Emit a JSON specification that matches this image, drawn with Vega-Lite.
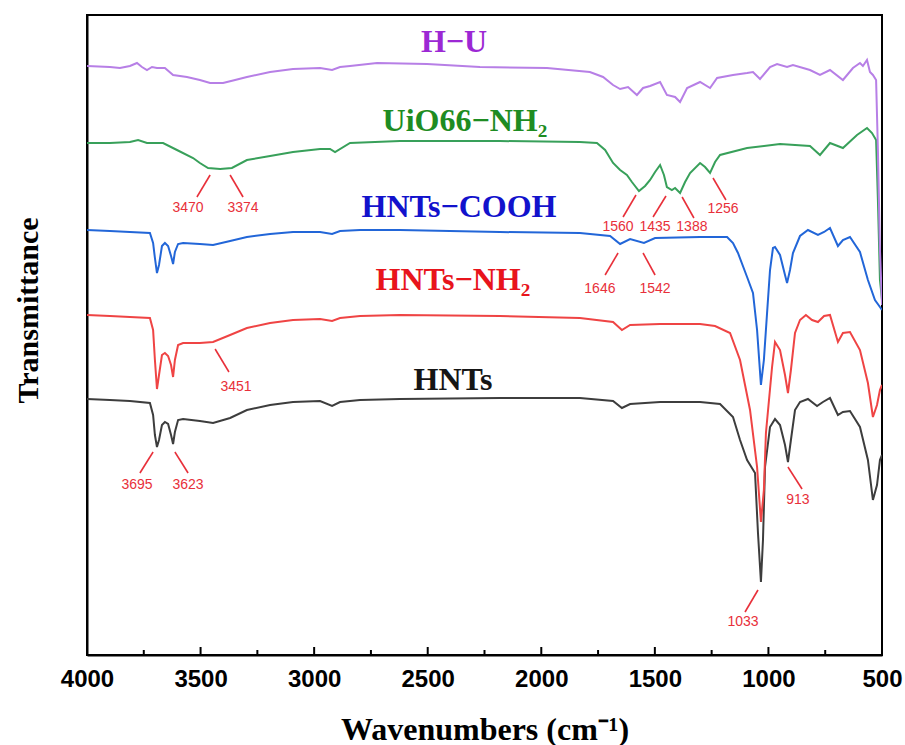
{
  "$schema": "https://vega.github.io/schema/vega-lite/v6.json",
  "width": 795,
  "height": 640,
  "autosize": "none",
  "padding": {"left": 87, "top": 15, "right": 23, "bottom": 90},
  "background": "white",
  "config": {
    "view": {"stroke": "black", "strokeWidth": 2},
    "axis": {"domainColor": "black", "domainWidth": 2, "grid": false}
  },
  "datasets": {
    "curves": [
      {"s":"HNTs","wn":4000,"t":256},{"s":"HNTs","wn":3899,"t":255},{"s":"HNTs","wn":3811,"t":254},{"s":"HNTs","wn":3723,"t":252},{"s":"HNTs","wn":3709,"t":240},{"s":"HNTs","wn":3701,"t":220},{"s":"HNTs","wn":3692,"t":208},{"s":"HNTs","wn":3683,"t":215},{"s":"HNTs","wn":3670,"t":230},{"s":"HNTs","wn":3657,"t":233},{"s":"HNTs","wn":3643,"t":231},{"s":"HNTs","wn":3630,"t":220},{"s":"HNTs","wn":3621,"t":211},{"s":"HNTs","wn":3613,"t":223},{"s":"HNTs","wn":3599,"t":235},{"s":"HNTs","wn":3577,"t":236},{"s":"HNTs","wn":3503,"t":234},{"s":"HNTs","wn":3445,"t":232},{"s":"HNTs","wn":3370,"t":237},{"s":"HNTs","wn":3296,"t":245},{"s":"HNTs","wn":3194,"t":250},{"s":"HNTs","wn":3093,"t":253},{"s":"HNTs","wn":2974,"t":254},{"s":"HNTs","wn":2921,"t":249},{"s":"HNTs","wn":2886,"t":253},{"s":"HNTs","wn":2798,"t":255},{"s":"HNTs","wn":2622,"t":256},{"s":"HNTs","wn":2182,"t":257},{"s":"HNTs","wn":1830,"t":257},{"s":"HNTs","wn":1684,"t":254},{"s":"HNTs","wn":1645,"t":247},{"s":"HNTs","wn":1609,"t":251},{"s":"HNTs","wn":1477,"t":253},{"s":"HNTs","wn":1301,"t":253},{"s":"HNTs","wn":1213,"t":251},{"s":"HNTs","wn":1156,"t":238},{"s":"HNTs","wn":1125,"t":215},{"s":"HNTs","wn":1094,"t":195},{"s":"HNTs","wn":1059,"t":182},{"s":"HNTs","wn":1046,"t":122},{"s":"HNTs","wn":1033,"t":73},{"s":"HNTs","wn":1024,"t":115},{"s":"HNTs","wn":1015,"t":188},{"s":"HNTs","wn":993,"t":228},{"s":"HNTs","wn":971,"t":236},{"s":"HNTs","wn":949,"t":230},{"s":"HNTs","wn":927,"t":210},{"s":"HNTs","wn":914,"t":193},{"s":"HNTs","wn":901,"t":215},{"s":"HNTs","wn":883,"t":245},{"s":"HNTs","wn":861,"t":253},{"s":"HNTs","wn":826,"t":256},{"s":"HNTs","wn":786,"t":249},{"s":"HNTs","wn":760,"t":253},{"s":"HNTs","wn":729,"t":257},{"s":"HNTs","wn":694,"t":240},{"s":"HNTs","wn":672,"t":243},{"s":"HNTs","wn":641,"t":244},{"s":"HNTs","wn":597,"t":228},{"s":"HNTs","wn":562,"t":195},{"s":"HNTs","wn":540,"t":155},{"s":"HNTs","wn":522,"t":170},{"s":"HNTs","wn":509,"t":195},{"s":"HNTs","wn":500,"t":200},

      {"s":"HNTs-NH2","wn":4000,"t":340},{"s":"HNTs-NH2","wn":3899,"t":339},{"s":"HNTs-NH2","wn":3811,"t":338},{"s":"HNTs-NH2","wn":3723,"t":337},{"s":"HNTs-NH2","wn":3709,"t":325},{"s":"HNTs-NH2","wn":3701,"t":295},{"s":"HNTs-NH2","wn":3692,"t":266},{"s":"HNTs-NH2","wn":3683,"t":280},{"s":"HNTs-NH2","wn":3670,"t":300},{"s":"HNTs-NH2","wn":3657,"t":302},{"s":"HNTs-NH2","wn":3643,"t":299},{"s":"HNTs-NH2","wn":3630,"t":290},{"s":"HNTs-NH2","wn":3621,"t":278},{"s":"HNTs-NH2","wn":3613,"t":295},{"s":"HNTs-NH2","wn":3599,"t":310},{"s":"HNTs-NH2","wn":3577,"t":312},{"s":"HNTs-NH2","wn":3503,"t":312},{"s":"HNTs-NH2","wn":3445,"t":313},{"s":"HNTs-NH2","wn":3370,"t":320},{"s":"HNTs-NH2","wn":3296,"t":327},{"s":"HNTs-NH2","wn":3194,"t":332},{"s":"HNTs-NH2","wn":3093,"t":335},{"s":"HNTs-NH2","wn":2974,"t":336},{"s":"HNTs-NH2","wn":2921,"t":334},{"s":"HNTs-NH2","wn":2886,"t":337},{"s":"HNTs-NH2","wn":2798,"t":339},{"s":"HNTs-NH2","wn":2622,"t":340},{"s":"HNTs-NH2","wn":2182,"t":339},{"s":"HNTs-NH2","wn":1830,"t":337},{"s":"HNTs-NH2","wn":1684,"t":333},{"s":"HNTs-NH2","wn":1645,"t":325},{"s":"HNTs-NH2","wn":1609,"t":330},{"s":"HNTs-NH2","wn":1477,"t":331},{"s":"HNTs-NH2","wn":1301,"t":331},{"s":"HNTs-NH2","wn":1235,"t":329},{"s":"HNTs-NH2","wn":1169,"t":322},{"s":"HNTs-NH2","wn":1125,"t":295},{"s":"HNTs-NH2","wn":1103,"t":270},{"s":"HNTs-NH2","wn":1081,"t":245},{"s":"HNTs-NH2","wn":1050,"t":188},{"s":"HNTs-NH2","wn":1033,"t":133},{"s":"HNTs-NH2","wn":1020,"t":165},{"s":"HNTs-NH2","wn":1011,"t":222},{"s":"HNTs-NH2","wn":984,"t":288},{"s":"HNTs-NH2","wn":971,"t":313},{"s":"HNTs-NH2","wn":949,"t":305},{"s":"HNTs-NH2","wn":927,"t":280},{"s":"HNTs-NH2","wn":914,"t":262},{"s":"HNTs-NH2","wn":901,"t":285},{"s":"HNTs-NH2","wn":883,"t":322},{"s":"HNTs-NH2","wn":861,"t":335},{"s":"HNTs-NH2","wn":835,"t":340},{"s":"HNTs-NH2","wn":808,"t":335},{"s":"HNTs-NH2","wn":782,"t":333},{"s":"HNTs-NH2","wn":755,"t":339},{"s":"HNTs-NH2","wn":729,"t":340},{"s":"HNTs-NH2","wn":694,"t":313},{"s":"HNTs-NH2","wn":672,"t":322},{"s":"HNTs-NH2","wn":641,"t":323},{"s":"HNTs-NH2","wn":597,"t":305},{"s":"HNTs-NH2","wn":562,"t":272},{"s":"HNTs-NH2","wn":540,"t":238},{"s":"HNTs-NH2","wn":522,"t":250},{"s":"HNTs-NH2","wn":509,"t":265},{"s":"HNTs-NH2","wn":500,"t":270},

      {"s":"HNTs-COOH","wn":4000,"t":425},{"s":"HNTs-COOH","wn":3899,"t":424},{"s":"HNTs-COOH","wn":3811,"t":423},{"s":"HNTs-COOH","wn":3723,"t":422},{"s":"HNTs-COOH","wn":3709,"t":412},{"s":"HNTs-COOH","wn":3701,"t":397},{"s":"HNTs-COOH","wn":3692,"t":382},{"s":"HNTs-COOH","wn":3683,"t":390},{"s":"HNTs-COOH","wn":3670,"t":409},{"s":"HNTs-COOH","wn":3657,"t":412},{"s":"HNTs-COOH","wn":3643,"t":409},{"s":"HNTs-COOH","wn":3630,"t":399},{"s":"HNTs-COOH","wn":3621,"t":391},{"s":"HNTs-COOH","wn":3613,"t":403},{"s":"HNTs-COOH","wn":3599,"t":411},{"s":"HNTs-COOH","wn":3577,"t":412},{"s":"HNTs-COOH","wn":3503,"t":411},{"s":"HNTs-COOH","wn":3445,"t":410},{"s":"HNTs-COOH","wn":3370,"t":414},{"s":"HNTs-COOH","wn":3296,"t":418},{"s":"HNTs-COOH","wn":3194,"t":421},{"s":"HNTs-COOH","wn":3093,"t":423},{"s":"HNTs-COOH","wn":2974,"t":423},{"s":"HNTs-COOH","wn":2921,"t":421},{"s":"HNTs-COOH","wn":2886,"t":424},{"s":"HNTs-COOH","wn":2798,"t":425},{"s":"HNTs-COOH","wn":2622,"t":425},{"s":"HNTs-COOH","wn":2402,"t":424},{"s":"HNTs-COOH","wn":2182,"t":423},{"s":"HNTs-COOH","wn":1830,"t":422},{"s":"HNTs-COOH","wn":1697,"t":419},{"s":"HNTs-COOH","wn":1653,"t":411},{"s":"HNTs-COOH","wn":1609,"t":416},{"s":"HNTs-COOH","wn":1548,"t":412},{"s":"HNTs-COOH","wn":1499,"t":417},{"s":"HNTs-COOH","wn":1301,"t":418},{"s":"HNTs-COOH","wn":1182,"t":418},{"s":"HNTs-COOH","wn":1156,"t":412},{"s":"HNTs-COOH","wn":1134,"t":402},{"s":"HNTs-COOH","wn":1094,"t":378},{"s":"HNTs-COOH","wn":1068,"t":362},{"s":"HNTs-COOH","wn":1050,"t":325},{"s":"HNTs-COOH","wn":1033,"t":270},{"s":"HNTs-COOH","wn":1020,"t":295},{"s":"HNTs-COOH","wn":1006,"t":342},{"s":"HNTs-COOH","wn":993,"t":385},{"s":"HNTs-COOH","wn":980,"t":407},{"s":"HNTs-COOH","wn":971,"t":408},{"s":"HNTs-COOH","wn":949,"t":400},{"s":"HNTs-COOH","wn":927,"t":380},{"s":"HNTs-COOH","wn":918,"t":372},{"s":"HNTs-COOH","wn":905,"t":385},{"s":"HNTs-COOH","wn":892,"t":402},{"s":"HNTs-COOH","wn":861,"t":419},{"s":"HNTs-COOH","wn":826,"t":425},{"s":"HNTs-COOH","wn":782,"t":420},{"s":"HNTs-COOH","wn":755,"t":423},{"s":"HNTs-COOH","wn":729,"t":427},{"s":"HNTs-COOH","wn":694,"t":409},{"s":"HNTs-COOH","wn":672,"t":415},{"s":"HNTs-COOH","wn":641,"t":418},{"s":"HNTs-COOH","wn":597,"t":403},{"s":"HNTs-COOH","wn":562,"t":375},{"s":"HNTs-COOH","wn":531,"t":355},{"s":"HNTs-COOH","wn":509,"t":348},{"s":"HNTs-COOH","wn":500,"t":345},

      {"s":"UiO66-NH2","wn":4000,"t":512},{"s":"UiO66-NH2","wn":3899,"t":512},{"s":"UiO66-NH2","wn":3811,"t":513},{"s":"UiO66-NH2","wn":3775,"t":515},{"s":"UiO66-NH2","wn":3736,"t":512},{"s":"UiO66-NH2","wn":3665,"t":512},{"s":"UiO66-NH2","wn":3604,"t":505},{"s":"UiO66-NH2","wn":3533,"t":497},{"s":"UiO66-NH2","wn":3503,"t":492},{"s":"UiO66-NH2","wn":3467,"t":487},{"s":"UiO66-NH2","wn":3414,"t":486},{"s":"UiO66-NH2","wn":3362,"t":487},{"s":"UiO66-NH2","wn":3296,"t":495},{"s":"UiO66-NH2","wn":3194,"t":499},{"s":"UiO66-NH2","wn":3093,"t":503},{"s":"UiO66-NH2","wn":2974,"t":506},{"s":"UiO66-NH2","wn":2930,"t":506},{"s":"UiO66-NH2","wn":2908,"t":503},{"s":"UiO66-NH2","wn":2842,"t":512},{"s":"UiO66-NH2","wn":2622,"t":514},{"s":"UiO66-NH2","wn":2182,"t":514},{"s":"UiO66-NH2","wn":1830,"t":513},{"s":"UiO66-NH2","wn":1755,"t":512},{"s":"UiO66-NH2","wn":1719,"t":505},{"s":"UiO66-NH2","wn":1684,"t":492},{"s":"UiO66-NH2","wn":1653,"t":485},{"s":"UiO66-NH2","wn":1623,"t":480},{"s":"UiO66-NH2","wn":1601,"t":473},{"s":"UiO66-NH2","wn":1570,"t":464},{"s":"UiO66-NH2","wn":1543,"t":469},{"s":"UiO66-NH2","wn":1521,"t":475},{"s":"UiO66-NH2","wn":1499,"t":483},{"s":"UiO66-NH2","wn":1477,"t":490},{"s":"UiO66-NH2","wn":1460,"t":480},{"s":"UiO66-NH2","wn":1447,"t":468},{"s":"UiO66-NH2","wn":1425,"t":465},{"s":"UiO66-NH2","wn":1411,"t":467},{"s":"UiO66-NH2","wn":1389,"t":462},{"s":"UiO66-NH2","wn":1367,"t":473},{"s":"UiO66-NH2","wn":1345,"t":482},{"s":"UiO66-NH2","wn":1301,"t":492},{"s":"UiO66-NH2","wn":1279,"t":488},{"s":"UiO66-NH2","wn":1257,"t":482},{"s":"UiO66-NH2","wn":1235,"t":493},{"s":"UiO66-NH2","wn":1213,"t":500},{"s":"UiO66-NH2","wn":1094,"t":507},{"s":"UiO66-NH2","wn":949,"t":511},{"s":"UiO66-NH2","wn":817,"t":509},{"s":"UiO66-NH2","wn":773,"t":500},{"s":"UiO66-NH2","wn":729,"t":512},{"s":"UiO66-NH2","wn":672,"t":507},{"s":"UiO66-NH2","wn":610,"t":520},{"s":"UiO66-NH2","wn":566,"t":527},{"s":"UiO66-NH2","wn":544,"t":522},{"s":"UiO66-NH2","wn":526,"t":515},{"s":"UiO66-NH2","wn":518,"t":455},{"s":"UiO66-NH2","wn":509,"t":375},{"s":"UiO66-NH2","wn":500,"t":355},

      {"s":"H-U","wn":4000,"t":589},{"s":"H-U","wn":3899,"t":588},{"s":"H-U","wn":3855,"t":587},{"s":"H-U","wn":3811,"t":589},{"s":"H-U","wn":3780,"t":592},{"s":"H-U","wn":3758,"t":588},{"s":"H-U","wn":3736,"t":585},{"s":"H-U","wn":3714,"t":588},{"s":"H-U","wn":3692,"t":587},{"s":"H-U","wn":3657,"t":587},{"s":"H-U","wn":3621,"t":580},{"s":"H-U","wn":3560,"t":578},{"s":"H-U","wn":3503,"t":575},{"s":"H-U","wn":3458,"t":572},{"s":"H-U","wn":3401,"t":572},{"s":"H-U","wn":3348,"t":575},{"s":"H-U","wn":3296,"t":578},{"s":"H-U","wn":3194,"t":583},{"s":"H-U","wn":3093,"t":586},{"s":"H-U","wn":2974,"t":587},{"s":"H-U","wn":2921,"t":585},{"s":"H-U","wn":2886,"t":588},{"s":"H-U","wn":2842,"t":589},{"s":"H-U","wn":2723,"t":592},{"s":"H-U","wn":2503,"t":591},{"s":"H-U","wn":2270,"t":588},{"s":"H-U","wn":1975,"t":587},{"s":"H-U","wn":1786,"t":583},{"s":"H-U","wn":1728,"t":578},{"s":"H-U","wn":1684,"t":570},{"s":"H-U","wn":1653,"t":566},{"s":"H-U","wn":1618,"t":568},{"s":"H-U","wn":1579,"t":560},{"s":"H-U","wn":1552,"t":567},{"s":"H-U","wn":1521,"t":569},{"s":"H-U","wn":1477,"t":573},{"s":"H-U","wn":1447,"t":560},{"s":"H-U","wn":1411,"t":558},{"s":"H-U","wn":1389,"t":553},{"s":"H-U","wn":1358,"t":567},{"s":"H-U","wn":1301,"t":573},{"s":"H-U","wn":1257,"t":567},{"s":"H-U","wn":1226,"t":577},{"s":"H-U","wn":1156,"t":580},{"s":"H-U","wn":1094,"t":582},{"s":"H-U","wn":1068,"t":583},{"s":"H-U","wn":1037,"t":576},{"s":"H-U","wn":993,"t":588},{"s":"H-U","wn":962,"t":591},{"s":"H-U","wn":918,"t":588},{"s":"H-U","wn":892,"t":590},{"s":"H-U","wn":817,"t":585},{"s":"H-U","wn":773,"t":580},{"s":"H-U","wn":729,"t":585},{"s":"H-U","wn":672,"t":575},{"s":"H-U","wn":628,"t":587},{"s":"H-U","wn":597,"t":592},{"s":"H-U","wn":584,"t":589},{"s":"H-U","wn":566,"t":595},{"s":"H-U","wn":553,"t":583},{"s":"H-U","wn":540,"t":580},{"s":"H-U","wn":526,"t":575},{"s":"H-U","wn":518,"t":505},{"s":"H-U","wn":509,"t":405},{"s":"H-U","wn":500,"t":350}
    ],
    "names": [
      {"s":"H-U","label":"H−U","wn":2384,"t":603},
      {"s":"UiO66-NH2","label":"UiO66−NH₂","wn":2336,"t":524},
      {"s":"HNTs-COOH","label":"HNTs−COOH","wn":2362,"t":438},
      {"s":"HNTs-NH2","label":"HNTs−NH₂","wn":2389,"t":365},
      {"s":"HNTs","label":"HNTs","wn":2389,"t":265}
    ],
    "peaks": [
      {"label":"3470","wn":3555,"t":447,"wa":3458,"ta":480,"wb":3516,"tb":458},
      {"label":"3374","wn":3313,"t":447,"wa":3370,"ta":480,"wb":3313,"tb":458},
      {"label":"1560","wn":1662,"t":428,"wa":1583,"ta":460,"wb":1640,"tb":438},
      {"label":"1435","wn":1499,"t":428,"wa":1451,"ta":459,"wb":1508,"tb":438},
      {"label":"1388","wn":1337,"t":428,"wa":1380,"ta":458,"wb":1328,"tb":437},
      {"label":"1256","wn":1200,"t":446,"wa":1244,"ta":477,"wb":1187,"tb":455},
      {"label":"1646","wn":1742,"t":366,"wa":1662,"ta":402,"wb":1719,"tb":380},
      {"label":"1542","wn":1499,"t":366,"wa":1552,"ta":402,"wb":1499,"tb":380},
      {"label":"3451","wn":3344,"t":268,"wa":3436,"ta":306,"wb":3375,"tb":283},
      {"label":"3695","wn":3780,"t":170,"wa":3709,"ta":203,"wb":3767,"tb":182},
      {"label":"3623","wn":3555,"t":170,"wa":3613,"ta":203,"wb":3555,"tb":182},
      {"label":"913","wn":870,"t":155,"wa":914,"ta":188,"wb":852,"tb":166},
      {"label":"1033","wn":1112,"t":33,"wa":1046,"ta":65,"wb":1103,"tb":43}
    ],
    "majorTicks": [{"wn":3500},{"wn":3000},{"wn":2500},{"wn":2000},{"wn":1500},{"wn":1000}],
    "minorTicks": [{"wn":3750},{"wn":3250},{"wn":2750},{"wn":2250},{"wn":1750},{"wn":1250},{"wn":750}]
  },
  "resolve": {"scale": {"color": "independent"}},
  "layer": [
    {
      "data": {"name": "curves"},
      "mark": {"type": "line", "strokeWidth": 2, "interpolate": "linear", "clip": true},
      "encoding": {
        "x": {
          "field": "wn", "type": "quantitative",
          "scale": {"domain": [500, 4000], "reverse": true, "nice": false, "zero": false},
          "axis": {
            "title": "Wavenumbers (cm⁻¹)",
            "titleFont": "Liberation Serif", "titleFontSize": 32, "titleFontWeight": "bold", "titleColor": "black",
            "titleBaseline": "alphabetic", "titleY": 84,
            "values": [4000, 3500, 3000, 2500, 2000, 1500, 1000, 500],
            "format": "d",
            "labelFont": "Liberation Sans", "labelFontSize": 24, "labelFontWeight": "bold", "labelColor": "black",
            "labelFlush": false, "labelOverlap": false, "labelPadding": 12, "labelBaseline": "top",
            "ticks": false
          }
        },
        "y": {
          "field": "t", "type": "quantitative",
          "scale": {"domain": [0, 640], "nice": false, "zero": false},
          "axis": {
            "title": "Transmittance", "ticks": false, "labels": false,
            "titleFont": "Liberation Serif", "titleFontSize": 30, "titleFontWeight": "bold", "titleColor": "black",
            "titleBaseline": "alphabetic", "titleAngle": -90, "titleX": -50, "titleY": 295, "titleAlign": "center"
          }
        },
        "color": {
          "field": "s", "type": "nominal", "legend": null,
          "scale": {"domain": ["HNTs", "HNTs-NH2", "HNTs-COOH", "UiO66-NH2", "H-U"],
                    "range": ["#3d3d3d", "#ef4444", "#2266d8", "#38a05a", "#b77fe6"]}
        }
      }
    },
    {
      "data": {"name": "majorTicks"},
      "mark": {"type": "rule", "color": "black", "strokeWidth": 2},
      "encoding": {
        "x": {"field": "wn", "type": "quantitative"},
        "y": {"datum": 0},
        "y2": {"datum": 8}
      }
    },
    {
      "data": {"name": "minorTicks"},
      "mark": {"type": "rule", "color": "black", "strokeWidth": 2},
      "encoding": {
        "x": {"field": "wn", "type": "quantitative"},
        "y": {"datum": 0},
        "y2": {"datum": 5}
      }
    },
    {
      "data": {"name": "names"},
      "mark": {"type": "text", "font": "Liberation Serif", "fontSize": 32, "fontWeight": "bold", "align": "center", "baseline": "alphabetic"},
      "encoding": {
        "x": {"field": "wn", "type": "quantitative"},
        "y": {"field": "t", "type": "quantitative"},
        "text": {"field": "label"},
        "color": {
          "field": "s", "type": "nominal", "legend": null,
          "scale": {"domain": ["HNTs", "HNTs-NH2", "HNTs-COOH", "UiO66-NH2", "H-U"],
                    "range": ["#151515", "#e8141c", "#1212cc", "#1e8c22", "#9c28d4"]}
        }
      }
    },
    {
      "data": {"name": "peaks"},
      "mark": {"type": "rule", "color": "#e8303a", "strokeWidth": 1.6},
      "encoding": {
        "x": {"field": "wa", "type": "quantitative"},
        "y": {"field": "ta", "type": "quantitative"},
        "x2": {"field": "wb"},
        "y2": {"field": "tb"}
      }
    },
    {
      "data": {"name": "peaks"},
      "mark": {"type": "text", "font": "Liberation Sans", "fontSize": 14, "color": "#e8303a", "align": "center", "baseline": "middle"},
      "encoding": {
        "x": {"field": "wn", "type": "quantitative"},
        "y": {"field": "t", "type": "quantitative"},
        "text": {"field": "label"}
      }
    }
  ]
}
